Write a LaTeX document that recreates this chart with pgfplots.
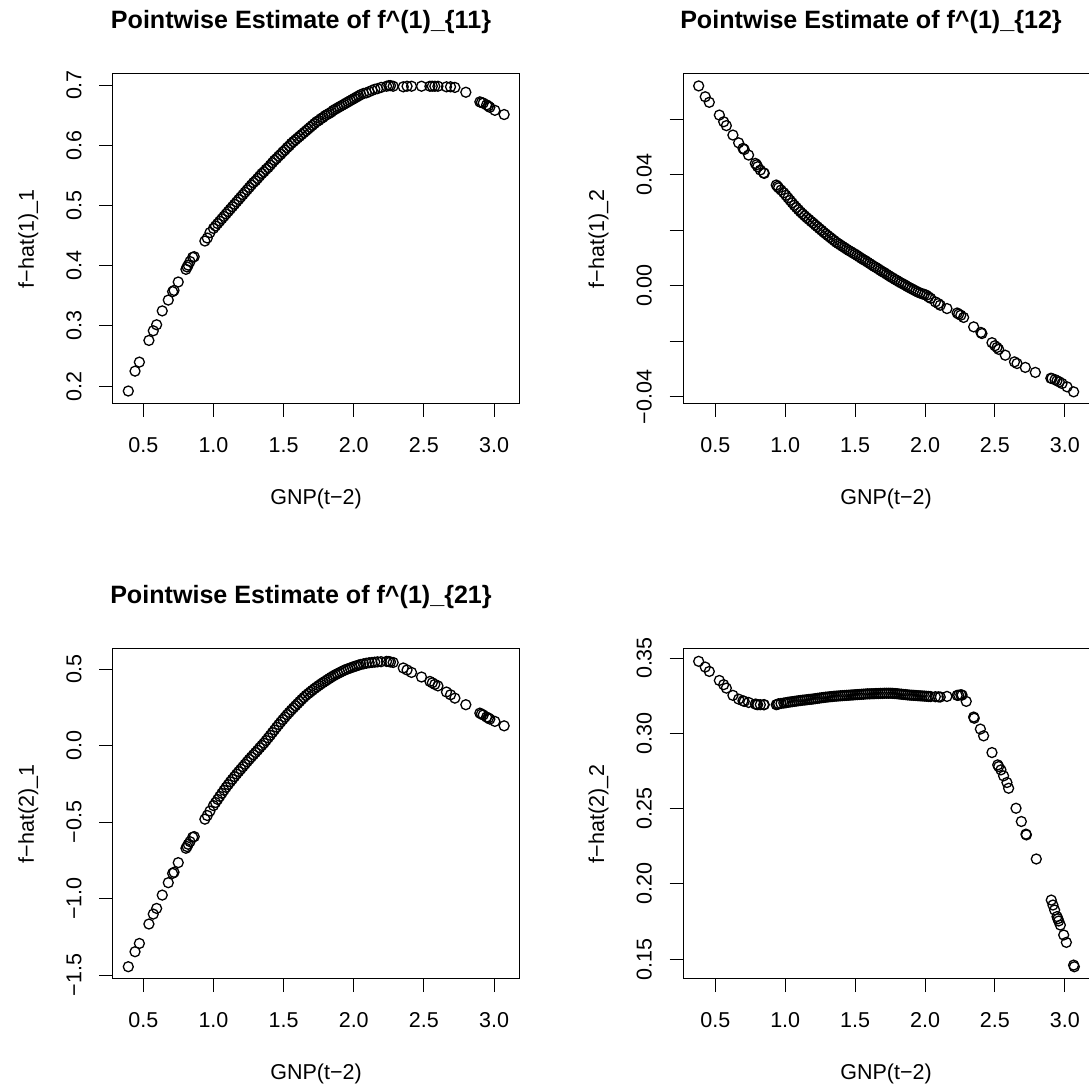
\documentclass[border=0pt]{standalone}
\usepackage{fontspec}
\setmainfont{Liberation Sans}
\usepackage{pgfplots}
\pgfplotsset{compat=1.18}

\pgfplotsset{
  rpanel/.style={
    scale only axis, width=406pt, height=329.5pt,
    anchor=south west,
    axis line style={line width=1pt},
    tick align=outside, tick pos=left,
    major tick length=13.5pt,
    every tick/.style={black, line width=1pt},
    xtick={0.5,1,1.5,2,2.5,3},
    xticklabels={0.5,1.0,1.5,2.0,2.5,3.0},
    ticklabel style={font=\fontsize{21.5}{25}\selectfont, inner sep=0pt},
    xticklabel style={anchor=base, yshift=-35.5pt},
    yticklabel style={rotate=90, anchor=base, yshift=18pt},
    xlabel={GNP(t−2)},
    label style={font=\fontsize{21.5}{25}\selectfont, inner sep=0pt},
    xlabel style={at={(axis description cs:0.5,0)}, anchor=base, yshift=-101pt},
    ylabel style={at={(axis description cs:0,0.5)}, anchor=base, yshift=79pt},
    title style={font=\bfseries\fontsize{25.1}{30}\selectfont, at={(axis description cs:0.5,1)},
      anchor=base, yshift=39pt, xshift=-15pt, inner sep=0pt},
    clip=false,
    scaled ticks=false,
  },
  rdots/.style={only marks, mark=o, mark size=5pt, mark options={line width=1.3pt, black}, black},
}

\begin{document}
\begin{tikzpicture}
\useasboundingbox (0pt,0pt) rectangle (1089pt,1090pt);

% top left
\begin{axis}[rpanel, at={(113pt,686.5pt)},
  xmin=0.284, xmax=3.178, ymin=0.1713, ymax=0.7183,
  ytick={0.2,0.3,0.4,0.5,0.6,0.7},
  yticklabels={0.2,0.3,0.4,0.5,0.6,0.7},
  ylabel={f−hat(1)\_1},
  title={Pointwise Estimate of f\textasciicircum(1)\_\{11\}}]
\addplot[rdots] table {
x y
0.393 0.192
0.441 0.225
0.472 0.240
0.540 0.276
0.571 0.292
0.595 0.302
0.635 0.325
0.678 0.343
0.709 0.357
0.719 0.359
0.749 0.373
0.804 0.394
0.812 0.398
0.820 0.401
0.833 0.407
0.852 0.414
0.863 0.415
0.939 0.441
0.956 0.446
0.975 0.455
1.00 0.462
1.03 0.470
1.06 0.478
1.09 0.486
1.12 0.494
1.15 0.502
1.18 0.510
1.21 0.518
1.24 0.526
1.27 0.534
1.30 0.541
1.33 0.549
1.36 0.556
1.39 0.563
1.42 0.571
1.45 0.578
1.48 0.585
1.51 0.592
1.54 0.599
1.57 0.606
1.60 0.612
1.63 0.618
1.66 0.624
1.69 0.630
1.72 0.636
1.75 0.641
1.78 0.646
1.81 0.651
1.84 0.655
1.87 0.660
1.90 0.664
1.93 0.668
1.96 0.672
1.99 0.676
2.02 0.680
2.05 0.684
2.09 0.687
2.13 0.691
2.17 0.694
2.234 0.698
2.250 0.699
2.262 0.699
2.281 0.698
2.353 0.697
2.380 0.698
2.412 0.698
2.483 0.698
2.543 0.698
2.560 0.698
2.578 0.698
2.600 0.698
2.661 0.697
2.690 0.697
2.721 0.696
2.799 0.688
2.899 0.672
2.910 0.671
2.923 0.670
2.947 0.667
2.960 0.665
2.970 0.663
3.006 0.658
3.072 0.651
1.015 0.466
1.045 0.474
1.075 0.482
1.105 0.490
1.135 0.498
1.165 0.506
1.195 0.514
1.225 0.522
1.255 0.530
1.285 0.538
1.315 0.545
1.345 0.553
1.375 0.560
1.405 0.567
1.435 0.575
1.465 0.582
1.495 0.589
1.525 0.596
1.555 0.603
1.585 0.609
1.615 0.615
1.645 0.621
1.675 0.627
1.705 0.633
1.735 0.639
1.765 0.644
1.795 0.649
1.825 0.653
1.855 0.658
1.885 0.662
1.915 0.666
1.945 0.670
1.975 0.674
2.005 0.678
2.035 0.682
2.070 0.686
2.110 0.689
2.150 0.693
2.195 0.696
};
\end{axis}

% top right
\begin{axis}[rpanel, at={(683pt,686.5pt)},
  xmin=0.269, xmax=3.173, ymin=-0.0424, ymax=0.0763,
  ytick={-0.04,-0.02,0,0.02,0.04,0.06},
  yticklabels={−0.04,,0.00,,0.04,},
  ylabel={f−hat(1)\_2},
  title={Pointwise Estimate of f\textasciicircum(1)\_\{12\}}]
\addplot[rdots] table {
x y
0.381 0.0720
0.428 0.0681
0.457 0.0661
0.529 0.0615
0.560 0.0591
0.579 0.0577
0.626 0.0543
0.667 0.0515
0.698 0.0495
0.707 0.0491
0.738 0.0471
0.786 0.0441
0.796 0.0436
0.803 0.0429
0.822 0.0417
0.846 0.0407
0.850 0.0405
0.936 0.0363
0.945 0.0358
0.953 0.0353
0.970 0.0345
0.99 0.0335
1.02 0.0317
1.05 0.0299
1.08 0.0282
1.11 0.0266
1.14 0.0252
1.17 0.0239
1.20 0.0226
1.23 0.0213
1.26 0.0200
1.29 0.0187
1.32 0.0175
1.35 0.0163
1.38 0.0152
1.41 0.0142
1.44 0.0132
1.47 0.0123
1.50 0.0114
1.53 0.0104
1.56 0.0094
1.59 0.0085
1.62 0.0075
1.65 0.0066
1.68 0.0056
1.71 0.0047
1.74 0.0037
1.77 0.0028
1.80 0.0019
1.83 0.0010
1.86 0.0002
1.89 -0.0007
1.92 -0.0015
1.95 -0.0023
1.98 -0.0029
2.01 -0.0034
2.04 -0.0045
2.074 -0.0058
2.095 -0.0064
2.109 -0.0070
2.157 -0.0082
2.230 -0.0098
2.241 -0.0102
2.256 -0.0106
2.276 -0.0114
2.348 -0.0148
2.400 -0.0168
2.407 -0.0172
2.479 -0.0205
2.500 -0.0216
2.515 -0.0222
2.527 -0.0229
2.574 -0.0250
2.640 -0.0274
2.658 -0.0280
2.717 -0.0294
2.789 -0.0312
2.900 -0.0333
2.908 -0.0334
2.930 -0.0338
2.944 -0.0342
2.960 -0.0346
2.980 -0.0352
3.016 -0.0364
3.063 -0.0382
1.005 0.0326
1.035 0.0308
1.065 0.0290
1.095 0.0274
1.125 0.0259
1.155 0.0245
1.185 0.0232
1.215 0.0219
1.245 0.0206
1.275 0.0193
1.305 0.0181
1.335 0.0169
1.365 0.0157
1.395 0.0147
1.425 0.0137
1.455 0.0127
1.485 0.0118
1.515 0.0109
1.545 0.0099
1.575 0.0090
1.605 0.0080
1.635 0.0070
1.665 0.0061
1.695 0.0051
1.725 0.0042
1.755 0.0032
1.785 0.0023
1.815 0.0014
1.845 0.0006
1.875 -0.0003
1.905 -0.0011
1.935 -0.0019
1.965 -0.0026
1.995 -0.0031
2.025 -0.0040
};
\end{axis}

% bottom left
\begin{axis}[rpanel, at={(113pt,111.5pt)},
  xmin=0.284, xmax=3.178, ymin=-1.522, ymax=0.631,
  ytick={-1.5,-1,-0.5,0,0.5},
  yticklabels={−1.5,−1.0,−0.5,0.0,0.5},
  ylabel={f−hat(2)\_1},
  title={Pointwise Estimate of f\textasciicircum(1)\_\{21\}}]
\addplot[rdots] table {
x y
0.393 -1.445
0.441 -1.347
0.472 -1.293
0.540 -1.166
0.571 -1.101
0.595 -1.064
0.635 -0.977
0.678 -0.896
0.709 -0.835
0.719 -0.828
0.749 -0.765
0.804 -0.671
0.812 -0.660
0.820 -0.645
0.833 -0.628
0.852 -0.599
0.863 -0.595
0.939 -0.481
0.956 -0.457
0.975 -0.428
1.00 -0.392
1.03 -0.352
1.06 -0.312
1.09 -0.273
1.12 -0.237
1.15 -0.203
1.18 -0.170
1.21 -0.138
1.24 -0.106
1.27 -0.075
1.30 -0.045
1.33 -0.014
1.36 0.016
1.39 0.050
1.42 0.085
1.45 0.120
1.48 0.154
1.51 0.186
1.54 0.217
1.57 0.246
1.60 0.274
1.63 0.302
1.66 0.328
1.69 0.350
1.72 0.372
1.75 0.392
1.78 0.411
1.81 0.429
1.84 0.447
1.87 0.463
1.90 0.477
1.93 0.491
1.96 0.502
1.99 0.512
2.02 0.521
2.05 0.530
2.09 0.538
2.13 0.543
2.17 0.547
2.234 0.550
2.250 0.549
2.262 0.546
2.281 0.543
2.353 0.507
2.380 0.494
2.412 0.478
2.483 0.448
2.543 0.419
2.560 0.410
2.578 0.400
2.600 0.390
2.661 0.350
2.690 0.332
2.721 0.310
2.799 0.267
2.899 0.212
2.910 0.206
2.923 0.200
2.947 0.186
2.960 0.180
2.970 0.173
3.006 0.158
3.072 0.129
1.015 -0.372
1.045 -0.332
1.075 -0.292
1.105 -0.255
1.135 -0.220
1.165 -0.186
1.195 -0.154
1.225 -0.122
1.255 -0.090
1.285 -0.060
1.315 -0.030
1.345 0.001
1.375 0.033
1.405 0.067
1.435 0.102
1.465 0.137
1.495 0.170
1.525 0.202
1.555 0.232
1.585 0.260
1.615 0.288
1.645 0.315
1.675 0.339
1.705 0.361
1.735 0.382
1.765 0.402
1.795 0.420
1.825 0.438
1.855 0.455
1.885 0.470
1.915 0.484
1.945 0.497
1.975 0.507
2.005 0.517
2.035 0.526
2.070 0.534
2.110 0.541
2.150 0.545
2.195 0.548
};
\end{axis}

% bottom right
\begin{axis}[rpanel, at={(683pt,111.5pt)},
  xmin=0.269, xmax=3.173, ymin=0.1371, ymax=0.356,
  ytick={0.15,0.2,0.25,0.3,0.35},
  yticklabels={0.15,0.20,0.25,0.30,0.35},
  ylabel={f−hat(2)\_2}]
\addplot[rdots] table {
x y
0.381 0.3478
0.428 0.3440
0.457 0.3411
0.529 0.3351
0.560 0.3323
0.579 0.3300
0.626 0.3252
0.667 0.3227
0.698 0.3216
0.707 0.3212
0.738 0.3205
0.786 0.3194
0.796 0.3192
0.803 0.3190
0.822 0.3190
0.846 0.3190
0.850 0.3190
0.936 0.3190
0.945 0.3192
0.953 0.3196
0.970 0.3198
0.99 0.3201
1.02 0.3206
1.05 0.3210
1.08 0.3214
1.11 0.3218
1.14 0.3221
1.17 0.3225
1.20 0.3228
1.23 0.3232
1.26 0.3236
1.29 0.3240
1.32 0.3243
1.35 0.3246
1.38 0.3248
1.41 0.3250
1.44 0.3252
1.47 0.3254
1.50 0.3256
1.53 0.3258
1.56 0.3260
1.59 0.3262
1.62 0.3263
1.65 0.3264
1.68 0.3265
1.71 0.3266
1.74 0.3266
1.77 0.3265
1.80 0.3263
1.83 0.3260
1.86 0.3257
1.89 0.3254
1.92 0.3252
1.95 0.3250
1.98 0.3248
2.01 0.3246
2.04 0.3244
2.074 0.3243
2.095 0.3242
2.109 0.3241
2.157 0.3245
2.230 0.3252
2.241 0.3253
2.256 0.3256
2.265 0.3254
2.295 0.3212
2.348 0.3108
2.352 0.3100
2.396 0.3028
2.419 0.2983
2.479 0.2872
2.520 0.2790
2.527 0.2779
2.543 0.2757
2.562 0.2717
2.586 0.2673
2.598 0.2635
2.651 0.2502
2.689 0.2414
2.722 0.2330
2.725 0.2325
2.796 0.2165
2.903 0.1892
2.915 0.1859
2.927 0.1826
2.944 0.1782
2.950 0.1768
2.956 0.1753
2.968 0.1726
2.992 0.1660
3.011 0.1611
3.063 0.1460
3.068 0.1449
1.005 0.3203
1.035 0.3208
1.065 0.3212
1.095 0.3216
1.125 0.3220
1.155 0.3223
1.185 0.3226
1.215 0.3230
1.245 0.3234
1.275 0.3238
1.305 0.3241
1.335 0.3244
1.365 0.3247
1.395 0.3249
1.425 0.3251
1.455 0.3253
1.485 0.3255
1.515 0.3257
1.545 0.3259
1.575 0.3261
1.605 0.3262
1.635 0.3263
1.665 0.3264
1.695 0.3265
1.725 0.3266
1.755 0.3266
1.785 0.3264
1.815 0.3261
1.845 0.3258
1.875 0.3255
1.905 0.3253
1.935 0.3251
1.965 0.3249
1.995 0.3247
2.025 0.3245
};
\end{axis}
\end{tikzpicture}
\end{document}
